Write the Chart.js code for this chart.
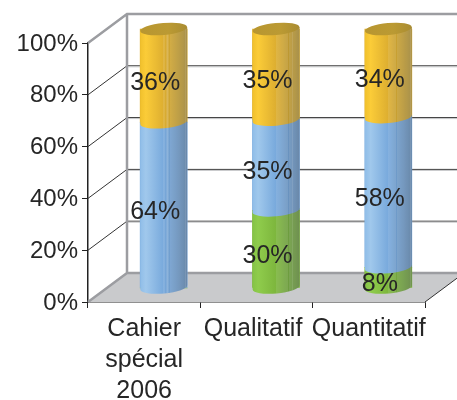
<!DOCTYPE html>
<html>
<head>
<meta charset="utf-8">
<style>html,body{margin:0;padding:0;background:#fff}canvas{display:block}</style>
<script src="https://cdn.jsdelivr.net/npm/chart.js@4"></script>
</head>
<body>
<canvas id="c" width="457" height="400"></canvas>
<script>
// Category labels, wrapped as they appear below the axis.
// The trailing space nudges the middle label away from its long neighbour.
const categories = [["Cahier", "spécial", "2006"], "Qualitatif ", "Quantitatif"];
// Share of each group per category, in percent, bottom of the stack first
const greenValues = [0, 30, 8];
const blueValues = [64, 35, 58];
const yellowValues = [36, 35, 34];
const yTicks = [0, 20, 40, 60, 80, 100];

// Horizontal shading of a cylinder: [offset, colour]
const greenShade = [[0, "#84c346"], [0.12, "#8fcc4c"], [0.5, "#7db63d"], [0.8, "#6c9a40"], [1, "#5f843e"]];
const blueShade = [[0, "#8fbde8"], [0.12, "#a0c8ec"], [0.5, "#78a9dc"], [0.8, "#6890bb"], [1, "#597ba0"]];
const yellowShade = [[0, "#f0c02c"], [0.12, "#fbcc38"], [0.5, "#ddae30"], [0.8, "#b99633"], [1, "#9f8538"]];
const capShade = [[0, "#b89630"], [0.6, "#bb9a33"], [1, "#a98c32"]];
const stripeOffsets = [0.5, 0.55, 0.59, 0.64, 0.69, 0.73, 0.78, 0.82, 0.86, 0.9, 0.94, 0.97];

// Depth of the box (back wall relative to the front axes)
const DEPTH_X = 39, DEPTH_Y = -29;
// Shift of the cylinders into the box, and of the value labels
const BAR_DX = 19.5, BAR_DY = -14;
const LABEL_DX = 11, LABEL_DY = -7;
const ELLIPSE_RY = 6, ELLIPSE_TILT = -0.09;

function shade(ctx, x, w, stops) {
  const g = ctx.createLinearGradient(x - w / 2, 0, x + w / 2, 0);
  stops.forEach(s => g.addColorStop(s[0], s[1]));
  return g;
}

const box3d = {
  id: "box3d",
  beforeDatasetsDraw(chart) {
    const { ctx, scales: { x, y } } = chart;
    const l = x.left, r = x.right, b = y.getPixelForValue(0), t = y.getPixelForValue(100);
    const W = chart.width;
    ctx.save();
    // floor
    ctx.fillStyle = "#c9cacc";
    ctx.beginPath();
    ctx.moveTo(l, b);
    ctx.lineTo(l + DEPTH_X, b + DEPTH_Y);
    ctx.lineTo(r + DEPTH_X, b + DEPTH_Y);
    ctx.lineTo(r, b);
    ctx.closePath();
    ctx.fill();
    // gridlines running along the left wall and across the back
    yTicks.slice(1, -1).forEach(v => {
      const py = y.getPixelForValue(v);
      ctx.strokeStyle = "#333";
      ctx.lineWidth = 1;
      ctx.beginPath();
      ctx.moveTo(l, py);
      ctx.lineTo(l + DEPTH_X, py + DEPTH_Y);
      ctx.lineTo(W, py + DEPTH_Y);
      ctx.stroke();
      ctx.strokeStyle = "#c4c5c7";
      ctx.beginPath();
      ctx.moveTo(l + DEPTH_X, py + DEPTH_Y + 1);
      ctx.lineTo(W, py + DEPTH_Y + 1);
      ctx.stroke();
    });
    // wall frame
    ctx.strokeStyle = "#9c9da1";
    ctx.lineWidth = 2.5;
    ctx.beginPath();
    ctx.moveTo(l, t);
    ctx.lineTo(l + DEPTH_X, t + DEPTH_Y);
    ctx.lineTo(W, t + DEPTH_Y);
    ctx.moveTo(l + DEPTH_X, t + DEPTH_Y);
    ctx.lineTo(l + DEPTH_X, b + DEPTH_Y);
    ctx.lineTo(W, b + DEPTH_Y);
    ctx.moveTo(l + DEPTH_X, b + DEPTH_Y);
    ctx.lineTo(l, b);
    ctx.stroke();
    // right edge of the floor
    ctx.strokeStyle = "#333";
    ctx.lineWidth = 1;
    ctx.beginPath();
    ctx.moveTo(r, b);
    ctx.lineTo(r + DEPTH_X, b + DEPTH_Y);
    ctx.stroke();
    ctx.restore();
    // the bars themselves sit inside the box
    ctx.save();
    ctx.translate(BAR_DX, BAR_DY);
  },
  afterDatasetsDraw(chart) {
    const { ctx } = chart;
    const shades = [greenShade, blueShade, yellowShade];
    // round off each stacked segment, bottom to top
    categories.forEach((_, i) => {
      shades.forEach((stops, d) => {
        const el = chart.getDatasetMeta(d).data[i];
        const value = chart.data.datasets[d].data[i];
        if (!value) return;
        const r = el.width / 2;
        ctx.save();
        ctx.beginPath();
        ctx.moveTo(el.x - r, el.y + r * Math.sin(-ELLIPSE_TILT));
        ctx.lineTo(el.x + r, el.y + r * Math.sin(ELLIPSE_TILT));
        ctx.lineTo(el.x + r, el.base + r * Math.sin(ELLIPSE_TILT));
        ctx.ellipse(el.x, el.base, r, ELLIPSE_RY, ELLIPSE_TILT, 0, Math.PI);
        ctx.closePath();
        ctx.fillStyle = shade(ctx, el.x, el.width, stops);
        ctx.fill();
        ctx.clip();
        ctx.strokeStyle = "rgba(255,255,255,0.2)";
        ctx.lineWidth = 1;
        stripeOffsets.forEach(f => {
          const sx = Math.round(el.x - r + f * el.width) + 0.5;
          ctx.beginPath();
          ctx.moveTo(sx, el.y - 10);
          ctx.lineTo(sx, el.base + 10);
          ctx.stroke();
        });
        ctx.restore();
      });
      // lid of the cylinder
      const top = chart.getDatasetMeta(2).data[i];
      ctx.beginPath();
      ctx.ellipse(top.x, top.y, top.width / 2, ELLIPSE_RY, ELLIPSE_TILT, 0, Math.PI * 2);
      ctx.fillStyle = shade(ctx, top.x, top.width, capShade);
      ctx.fill();
    });
    ctx.restore();

    // value labels
    ctx.save();
    ctx.font = "25px 'Liberation Sans'";
    ctx.fillStyle = "#262626";
    ctx.textAlign = "center";
    ctx.textBaseline = "middle";
    categories.forEach((_, i) => {
      [0, 1, 2].forEach(d => {
        const value = chart.data.datasets[d].data[i];
        if (!value) return;
        const el = chart.getDatasetMeta(d).data[i];
        ctx.fillText(value + "%", el.x + LABEL_DX, (el.y + el.base) / 2 + LABEL_DY);
      });
    });
    ctx.restore();
  }
};

new Chart(document.getElementById("c"), {
  type: "bar",
  data: {
    labels: categories,
    datasets: [
      { label: "Vert", data: greenValues, backgroundColor: "#7db63d", clip: false },
      { label: "Bleu", data: blueValues, backgroundColor: "#78a9dc", clip: false },
      { label: "Jaune", data: yellowValues, backgroundColor: "#ddae30", clip: false }
    ]
  },
  plugins: [box3d],
  options: {
    responsive: false,
    animation: false,
    layout: { padding: { top: 43, right: 32, left: 0, bottom: 0 } },
    barThickness: 47,
    plugins: { legend: { display: false }, tooltip: { enabled: false } },
    scales: {
      x: {
        stacked: true,
        afterFit(s) { s.height = 98; },
        border: { color: "#222", width: 1.5 },
        grid: { drawOnChartArea: false, color: "#222", tickLength: 6, offset: true },
        ticks: {
          color: "#262626", maxRotation: 0, autoSkip: false, padding: 5,
          font: { family: "'Liberation Sans'", size: 25, lineHeight: 1.25 }
        }
      },
      y: {
        stacked: true,
        min: 0,
        max: 100,
        afterFit(s) { s.width = 88; },
        afterBuildTicks(s) { s.ticks = yTicks.map(v => ({ value: v })); },
        border: { color: "#222", width: 1.5 },
        grid: { drawOnChartArea: false, color: "#222", tickLength: 6 },
        ticks: {
          color: "#262626", padding: 4, labelOffset: 1,
          font: { family: "'Liberation Sans'", size: 24 },
          callback: v => v + "%"
        }
      }
    }
  }
});
</script>
</body>
</html>
